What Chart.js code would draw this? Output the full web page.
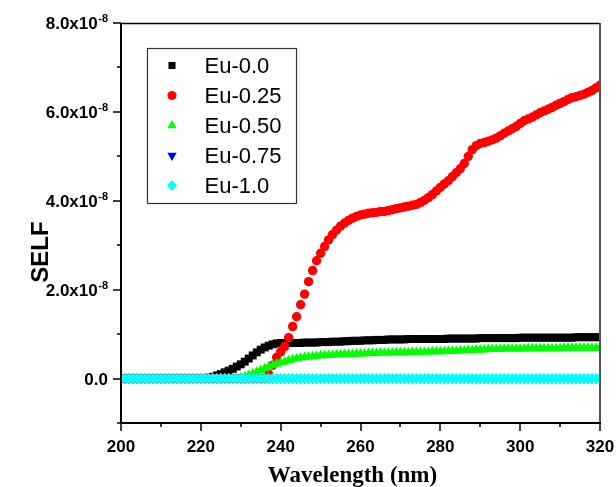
<!DOCTYPE html>
<html>
<head>
<meta charset="utf-8">
<script src="https://cdn.jsdelivr.net/npm/chart.js@4/dist/chart.umd.min.js"></script>
<style>
  html, body { margin: 0; padding: 0; background: #ffffff; }
  #wrap { width: 616px; height: 487px; }
</style>
</head>
<body>
<div id="wrap"><canvas id="c" width="616" height="487"></canvas></div>
<script>
// ---------- DATA (SELF values in units of 1e-8) ----------
const wavelength = [
  200,201,202,203,204,205,206,207,208,209,
  210,211,212,213,214,215,216,217,218,219,
  220,221,222,223,224,225,226,227,228,229,
  230,231,232,233,234,235,236,237,238,239,
  240,241,242,243,244,245,246,247,248,249,
  250,251,252,253,254,255,256,257,258,259,
  260,261,262,263,264,265,266,267,268,269,
  270,271,272,273,274,275,276,277,278,279,
  280,281,282,283,284,285,286,287,288,289,
  290,291,292,293,294,295,296,297,298,299,
  300,301,302,303,304,305,306,307,308,309,
  310,311,312,313,314,315,316,317,318,319,
  320
];
const selfEu000 = [
  0,0,0,0,0,0,0,0,0,0,
  0,0,0,0,0,0,0,0,0,0,
  0.01,0.01,0.02,0.04,0.07,0.10,0.14,0.18,0.22,0.27,
  0.32,0.38,0.45,0.52,0.59,0.65,0.70,0.74,0.77,0.79,
  0.80,0.80,0.80,0.80,0.80,0.80,0.81,0.81,0.81,0.81,
  0.82,0.82,0.82,0.83,0.83,0.83,0.84,0.84,0.85,0.85,
  0.85,0.86,0.86,0.86,0.87,0.87,0.87,0.88,0.88,0.88,
  0.88,0.88,0.89,0.89,0.89,0.89,0.89,0.89,0.89,0.89,
  0.89,0.89,0.90,0.90,0.90,0.90,0.90,0.90,0.90,0.90,
  0.91,0.91,0.91,0.91,0.91,0.91,0.91,0.91,0.91,0.91,
  0.92,0.92,0.92,0.92,0.92,0.92,0.92,0.92,0.92,0.92,
  0.92,0.92,0.92,0.92,0.93,0.93,0.93,0.93,0.93,0.93,
  0.93
];
const selfEu025 = [
  0,0,0,0,0,0,0,0,0,0,
  0,0,0,0,0,0,0,0,0,0,
  0,0,0,0,0,0,0,0,0,0,
  0,0,0,0,0,0,0,0.10,0.30,0.48,
  0.60,0.72,0.92,1.17,1.39,1.66,1.90,2.18,2.43,2.65,
  2.82,2.97,3.12,3.24,3.34,3.43,3.50,3.56,3.61,3.65,
  3.68,3.70,3.72,3.73,3.74,3.76,3.76,3.78,3.80,3.82,
  3.84,3.86,3.88,3.90,3.92,3.96,4.01,4.07,4.14,4.22,
  4.30,4.38,4.45,4.54,4.63,4.72,4.84,5.00,5.15,5.24,
  5.29,5.31,5.34,5.37,5.41,5.46,5.52,5.57,5.62,5.67,
  5.74,5.80,5.84,5.88,5.93,5.98,6.02,6.06,6.10,6.15,
  6.19,6.23,6.28,6.32,6.34,6.37,6.40,6.44,6.48,6.54,
  6.60
];
const selfEu050 = [
  0,0,0,0,0,0,0,0,0,0,
  0,0,0,0,0,0,0,0,0,0,
  0,0,0,0,0,0,0,0,0,0,
  0.02,0.05,0.08,0.11,0.15,0.19,0.23,0.27,0.30,0.33,
  0.36,0.38,0.41,0.43,0.45,0.47,0.48,0.49,0.50,0.51,
  0.52,0.52,0.53,0.53,0.54,0.54,0.55,0.55,0.55,0.56,
  0.56,0.56,0.57,0.57,0.57,0.58,0.58,0.58,0.58,0.59,
  0.59,0.59,0.59,0.60,0.60,0.60,0.60,0.60,0.61,0.61,
  0.61,0.61,0.62,0.62,0.62,0.63,0.63,0.64,0.64,0.65,
  0.65,0.65,0.66,0.66,0.66,0.66,0.67,0.67,0.67,0.67,
  0.67,0.67,0.68,0.68,0.68,0.68,0.68,0.68,0.68,0.68,
  0.68,0.69,0.69,0.69,0.69,0.69,0.69,0.69,0.69,0.69,
  0.69
];
const selfEu075 = [
  0,0,0,0,0,0,0,0,0,0,
  0,0,0,0,0,0,0,0,0,0,
  0,0,0,0,0,0,0,0,0,0,
  0,0,0,0,0,0,0,0,0,0,
  0,0,0,0,0,0,0,0,0,0,
  0,0,0,0,0,0,0,0,0,0,
  0,0,0,0,0,0,0,0,0,0,
  0,0,0,0,0,0,0,0,0,0,
  0,0,0,0,0,0,0,0,0,0,
  0,0,0,0,0,0,0,0,0,0,
  0,0,0,0,0,0,0,0,0,0,
  0,0,0,0,0,0,0,0,0,0,
  0
];
const selfEu100 = [
  0,0,0,0,0,0,0,0,0,0,
  0,0,0,0,0,0,0,0,0,0,
  0,0,0,0,0,0,0,0,0,0,
  0,0,0,0,0,0,0,0,0,0,
  0,0,0,0,0,0,0,0,0,0,
  0,0,0,0,0,0,0,0,0,0,
  0,0,0,0,0,0,0,0,0,0,
  0,0,0,0,0,0,0,0,0,0,
  0,0,0,0,0,0,0,0,0,0,
  0,0,0,0,0,0,0,0,0,0,
  0,0,0,0,0,0,0,0,0,0,
  0,0,0,0,0,0,0,0,0,0,
  0
];
const seriesLabels = ['Eu-0.0', 'Eu-0.25', 'Eu-0.50', 'Eu-0.75', 'Eu-1.0'];
const xMajorTicks = [200, 220, 240, 260, 280, 300, 320];
const xMinorTicks = [210, 230, 250, 270, 290, 310];
const yMajorTicks = [0, 2, 4, 6, 8];
const yMajorLabels = ['0.0', '2.0x10', '4.0x10', '6.0x10', '8.0x10'];
const yExponent = '-8';
const yMinorTicks = [-1, 1, 3, 5, 7];
const xTitle = 'Wavelength (nm)';
const yTitle = 'SELF';

// ---------- STYLES ----------
const styles = [
  { color: '#000000', pointStyle: 'rect',     radius: 5.6, rotation: 0,   legendRadius: 5.0 },
  { color: '#ff0000', pointStyle: 'circle',   radius: 4.7, rotation: 0,   legendRadius: 4.6 },
  { color: '#00ff00', pointStyle: 'triangle', radius: 5.6, rotation: 0,   legendRadius: 5.4 },
  { color: '#0000ff', pointStyle: 'triangle', radius: 5.6, rotation: 180, legendRadius: 5.4 },
  { color: '#00ffff', pointStyle: 'rectRot',  radius: 5.6, rotation: 0,   legendRadius: 5.2 }
];
const seriesValues = [selfEu000, selfEu025, selfEu050, selfEu075, selfEu100];

const datasets = seriesValues.map((vals, i) => ({
  label: seriesLabels[i],
  data: wavelength.map((w, k) => ({ x: w, y: vals[k] })),
  showLine: false,
  pointStyle: styles[i].pointStyle,
  pointRotation: styles[i].rotation,
  pointRadius: styles[i].radius,
  pointBackgroundColor: styles[i].color,
  pointBorderColor: styles[i].color,
  pointBorderWidth: 0,
  pointHoverRadius: styles[i].radius,
  order: seriesValues.length - i,
  clip: 0
}));

const TICK_FONT = 'bold 17px "Liberation Sans", Arial, sans-serif';

const decorPlugin = {
  id: 'decor',
  afterDraw(chart) {
    const ctx = chart.ctx;
    const xs = chart.scales.x, ys = chart.scales.y;
    const a = chart.chartArea;
    ctx.save();

    // frame
    ctx.strokeStyle = '#000';
    ctx.lineWidth = 1.5;
    ctx.beginPath(); ctx.moveTo(a.left, a.top + 0.5); ctx.lineTo(a.right, a.top + 0.5); ctx.stroke();
    ctx.strokeStyle = '#555';
    ctx.lineWidth = 2;
    ctx.beginPath(); ctx.moveTo(a.right, a.top); ctx.lineTo(a.right, a.bottom); ctx.stroke();
    ctx.strokeStyle = '#000';
    ctx.lineWidth = 2;
    ctx.beginPath(); ctx.moveTo(a.left, a.top); ctx.lineTo(a.left, a.bottom + 1); ctx.stroke();
    ctx.beginPath(); ctx.moveTo(a.left - 1, a.bottom); ctx.lineTo(a.right + 1, a.bottom); ctx.stroke();

    // ticks
    ctx.lineWidth = 1.5;
    xMajorTicks.forEach(v => { const p = Math.round(xs.getPixelForValue(v)); ctx.beginPath(); ctx.moveTo(p, a.bottom); ctx.lineTo(p, a.bottom + 8); ctx.stroke(); });
    xMinorTicks.forEach(v => { const p = Math.round(xs.getPixelForValue(v)); ctx.beginPath(); ctx.moveTo(p, a.bottom); ctx.lineTo(p, a.bottom + 4); ctx.stroke(); });
    yMajorTicks.forEach(v => { const p = Math.round(ys.getPixelForValue(v)); ctx.beginPath(); ctx.moveTo(a.left, p); ctx.lineTo(a.left - 8, p); ctx.stroke(); });
    yMinorTicks.forEach(v => { const p = Math.round(ys.getPixelForValue(v)); ctx.beginPath(); ctx.moveTo(a.left, p); ctx.lineTo(a.left - 4, p); ctx.stroke(); });

    // x tick labels
    ctx.fillStyle = '#000';
    ctx.font = TICK_FONT;
    ctx.textAlign = 'center';
    ctx.textBaseline = 'alphabetic';
    xMajorTicks.forEach(v => ctx.fillText(String(v), xs.getPixelForValue(v), a.bottom + 29));

    // y tick labels with superscript exponent
    const rightEdge = a.left - 13;
    yMajorTicks.forEach((v, i) => {
      const p = ys.getPixelForValue(v);
      const main = yMajorLabels[i];
      if (v === 0) {
        ctx.font = TICK_FONT;
        ctx.textAlign = 'right';
        ctx.fillText(main, rightEdge, p + 6);
      } else {
        ctx.font = 'bold 11px "Liberation Sans", Arial, sans-serif';
        const ew = ctx.measureText(yExponent).width;
        ctx.textAlign = 'right';
        ctx.fillText(yExponent, rightEdge, p - 1);
        ctx.font = TICK_FONT;
        ctx.fillText(main, rightEdge - ew - 0.5, p + 6);
      }
    });

    // axis titles
    ctx.font = 'bold 23px "Liberation Serif", "Times New Roman", serif';
    ctx.textAlign = 'center';
    ctx.fillText(xTitle, (a.left + a.right) / 2 - 8, a.bottom + 59);
    ctx.save();
    ctx.translate(48, (a.top + a.bottom) / 2 + 29);
    ctx.rotate(-Math.PI / 2);
    ctx.font = 'bold 24px "Liberation Sans", Arial, sans-serif';
    ctx.textAlign = 'center';
    ctx.fillText(yTitle, 0, 0);
    ctx.restore();

    // legend
    const lx = 147.5, ly = 48.5, lw = 149, lh = 155;
    ctx.strokeStyle = '#333';
    ctx.lineWidth = 1.2;
    ctx.strokeRect(lx, ly, lw, lh);
    chart.data.datasets.forEach((ds, i) => {
      const cy = ly + 17 + i * 30;
      const st = styles[i];
      ctx.fillStyle = st.color;
      ctx.strokeStyle = st.color;
      Chart.helpers.drawPoint(ctx, { pointStyle: st.pointStyle, radius: st.legendRadius, rotation: st.rotation, borderWidth: 0 }, lx + 24.5, cy);
      ctx.fillStyle = '#000';
      ctx.font = '22px "Liberation Sans", Arial, sans-serif';
      ctx.textAlign = 'left';
      ctx.textBaseline = 'middle';
      ctx.fillText(ds.label, lx + 57, cy + 1);
      ctx.textBaseline = 'alphabetic';
    });

    ctx.restore();
  }
};

new Chart(document.getElementById('c').getContext('2d'), {
  type: 'scatter',
  data: { datasets },
  options: {
    responsive: false,
    animation: false,
    devicePixelRatio: 1,
    layout: { padding: { left: 0, right: 16, top: 23, bottom: 0 } },
    scales: {
      x: {
        type: 'linear', min: 200, max: 320,
        grid: { display: false }, border: { display: false },
        ticks: { display: false },
        afterFit(s) { s.height = 64; }
      },
      y: {
        type: 'linear', min: -1, max: 8,
        grid: { display: false }, border: { display: false },
        ticks: { display: false },
        afterFit(s) { s.width = 121; }
      }
    },
    plugins: { legend: { display: false }, tooltip: { enabled: false } }
  },
  plugins: [decorPlugin]
});
</script>
</body>
</html>
